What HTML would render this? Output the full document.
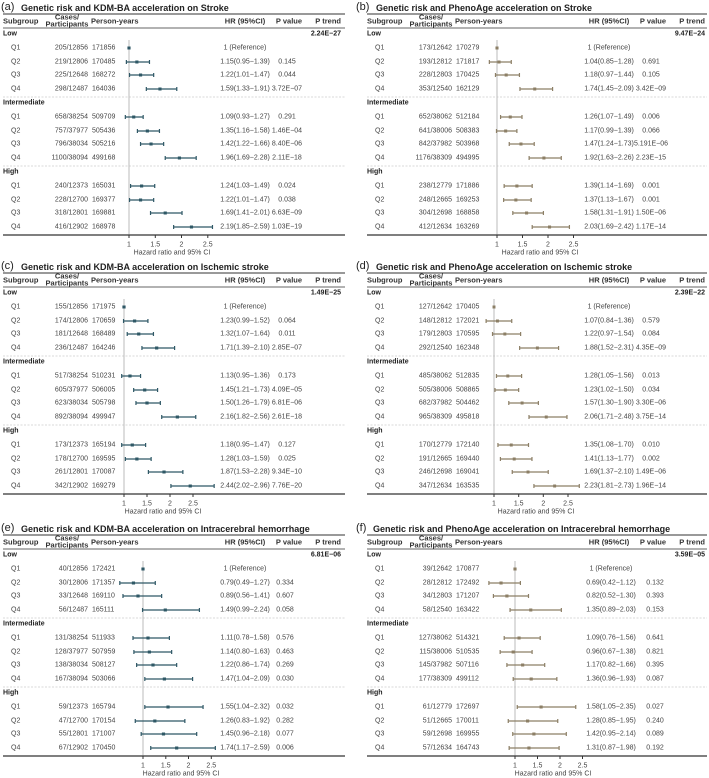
<!DOCTYPE html>
<html><head><meta charset="utf-8"><style>
html,body{margin:0;padding:0;background:#fff;}
svg{display:block;font-family:"Liberation Sans",sans-serif;}
text{font-size:7px;fill:#444;dominant-baseline:central;}
.e{text-anchor:end}.m{text-anchor:middle}
.b{font-weight:bold;fill:#222}
.t{font-size:9px;font-weight:bold;fill:#222}
.tl{font-size:11px;fill:#222}
.h{font-weight:bold;fill:#333;font-size:7.5px}
.ci{fill:none;stroke-width:1.2px;vector-effect:non-scaling-stroke}
.L .ci{stroke:#2f5866}.L .mk{fill:#2f5866}
.R .ci{stroke:#8c7f66}.R .mk{fill:#8c7f66}
.sep{stroke:#ccc;stroke-width:.8;stroke-dasharray:2 1.5}
.ref{stroke:#bbb;stroke-width:1}
.ax{stroke:#555;stroke-width:1.5}
.tk{stroke:#333;stroke-width:1}
</style></head><body>
<svg width="709" height="778" viewBox="0 0 709 778" xmlns="http://www.w3.org/2000/svg">

<g class="L" transform="translate(0,0)">
<text class="tl" x="1" y="7">(a)</text><text class="t" x="21" y="8">Genetic risk and KDM-BA acceleration on Stroke</text>
<line x1="3" y1="14" x2="345" y2="14" stroke="#333" stroke-width="1"/>
<line x1="3" y1="28" x2="345" y2="28" stroke="#333" stroke-width=".7"/>
<text class="h" x="3" y="21">Subgroup</text><text class="h m" x="67" y="17">Cases/</text><text class="h m" x="67" y="24">Participants</text><text class="h" x="91" y="21">Person-years</text><text class="h m" x="245" y="21">HR (95%CI)</text><text class="h m" x="289" y="21">P value</text><text class="h e" x="341" y="21">P trend</text>
<text class="b" x="3" y="34">Low</text><text class="b e" x="341" y="34">2.24E−27</text>
<line class="sep" x1="3" y1="97" x2="345" y2="97"/><text class="b" x="3" y="103">Intermediate</text>
<line class="sep" x1="3" y1="166" x2="345" y2="166"/><text class="b" x="3" y="172">High</text>
<line class="ref" x1="129" y1="40" x2="129" y2="235"/>
<line class="ax" x1="3" y1="235" x2="345" y2="235"/>
<path class="tk" d="M129 235v3M155.3 235v3M181.5 235v3M207.8 235v3"/>
<text class="m" x="129" y="245">1</text><text class="m" x="155.3" y="245">1.5</text><text class="m" x="181.5" y="245">2</text><text class="m" x="207.8" y="245">2.5</text>
<text class="m" x="172" y="253">Hazard ratio and 95% CI</text>
<text x="11" y="48">Q1</text><text class="e" x="88" y="48">205/12856</text><text x="92" y="48">171856</text><text class="m" x="245" y="48">1 (Reference)</text>
<text x="11" y="62">Q2</text><text class="e" x="88" y="62">219/12806</text><text x="92" y="62">170485</text><text class="m" x="245" y="62">1.15(0.95−1.39)</text><text class="m" x="287" y="62">0.145</text>
<text x="11" y="75">Q3</text><text class="e" x="88" y="75">225/12648</text><text x="92" y="75">168272</text><text class="m" x="245" y="75">1.22(1.01−1.47)</text><text class="m" x="287" y="75">0.044</text>
<text x="11" y="89">Q4</text><text class="e" x="88" y="89">298/12487</text><text x="92" y="89">164036</text><text class="m" x="245" y="89">1.59(1.33−1.91)</text><text class="m" x="287" y="89">3.72E−07</text>
<text x="11" y="117">Q1</text><text class="e" x="88" y="117">658/38254</text><text x="92" y="117">509709</text><text class="m" x="245" y="117">1.09(0.93−1.27)</text><text class="m" x="287" y="117">0.291</text>
<text x="11" y="131">Q2</text><text class="e" x="88" y="131">757/37977</text><text x="92" y="131">505436</text><text class="m" x="245" y="131">1.35(1.16−1.58)</text><text class="m" x="287" y="131">1.46E−04</text>
<text x="11" y="144">Q3</text><text class="e" x="88" y="144">796/38034</text><text x="92" y="144">505216</text><text class="m" x="245" y="144">1.42(1.22−1.66)</text><text class="m" x="287" y="144">8.40E−06</text>
<text x="11" y="158">Q4</text><text class="e" x="88" y="158">1100/38094</text><text x="92" y="158">499168</text><text class="m" x="245" y="158">1.96(1.69−2.28)</text><text class="m" x="287" y="158">2.11E−18</text>
<text x="11" y="186">Q1</text><text class="e" x="88" y="186">240/12373</text><text x="92" y="186">165031</text><text class="m" x="245" y="186">1.24(1.03−1.49)</text><text class="m" x="287" y="186">0.024</text>
<text x="11" y="200">Q2</text><text class="e" x="88" y="200">228/12700</text><text x="92" y="200">169377</text><text class="m" x="245" y="200">1.22(1.01−1.47)</text><text class="m" x="287" y="200">0.038</text>
<text x="11" y="213">Q3</text><text class="e" x="88" y="213">318/12801</text><text x="92" y="213">169881</text><text class="m" x="245" y="213">1.69(1.41−2.01)</text><text class="m" x="287" y="213">6.63E−09</text>
<text x="11" y="227">Q4</text><text class="e" x="88" y="227">416/12902</text><text x="92" y="227">168978</text><text class="m" x="245" y="227">2.19(1.85−2.59)</text><text class="m" x="287" y="227">1.03E−19</text>
<g transform="translate(129,0) scale(52.5,1)">
<path class="ci" d="M-0.05 62H0.39M-0.05 60V64M0.39 60V64 M0.01 75H0.47M0.01 73V77M0.47 73V77 M0.33 89H0.91M0.33 87V91M0.91 87V91 M-0.07 117H0.27M-0.07 115V119M0.27 115V119 M0.16 131H0.58M0.16 129V133M0.58 129V133 M0.22 144H0.66M0.22 142V146M0.66 142V146 M0.69 158H1.28M0.69 156V160M1.28 156V160 M0.03 186H0.49M0.03 184V188M0.49 184V188 M0.01 200H0.47M0.01 198V202M0.47 198V202 M0.41 213H1.01M0.41 211V215M1.01 211V215 M0.85 227H1.59M0.85 225V229M1.59 225V229"/>
<g class="mk"><rect x="-0.03" y="46.5" width="0.06" height="3"/><rect x="0.12" y="60.5" width="0.06" height="3"/><rect x="0.19" y="73.5" width="0.06" height="3"/><rect x="0.56" y="87.5" width="0.06" height="3"/><rect x="0.06" y="115.5" width="0.06" height="3"/><rect x="0.32" y="129.5" width="0.06" height="3"/><rect x="0.39" y="142.5" width="0.06" height="3"/><rect x="0.93" y="156.5" width="0.06" height="3"/><rect x="0.21" y="184.5" width="0.06" height="3"/><rect x="0.19" y="198.5" width="0.06" height="3"/><rect x="0.66" y="211.5" width="0.06" height="3"/><rect x="1.16" y="225.5" width="0.06" height="3"/></g>
</g>
</g>

<g class="R" transform="translate(364,0)">
<text class="tl" x="-8" y="7">(b)</text><text class="t" x="12" y="8">Genetic risk and PhenoAge acceleration on Stroke</text>
<line x1="3" y1="14" x2="343" y2="14" stroke="#333" stroke-width="1"/>
<line x1="3" y1="28" x2="343" y2="28" stroke="#333" stroke-width=".7"/>
<text class="h" x="3" y="21">Subgroup</text><text class="h m" x="67" y="17">Cases/</text><text class="h m" x="67" y="24">Participants</text><text class="h" x="91" y="21">Person-years</text><text class="h m" x="245" y="21">HR (95%CI)</text><text class="h m" x="289" y="21">P value</text><text class="h e" x="341" y="21">P trend</text>
<text class="b" x="3" y="34">Low</text><text class="b e" x="341" y="34">9.47E−24</text>
<line class="sep" x1="3" y1="97" x2="343" y2="97"/><text class="b" x="3" y="103">Intermediate</text>
<line class="sep" x1="3" y1="166" x2="343" y2="166"/><text class="b" x="3" y="172">High</text>
<line class="ref" x1="133" y1="40" x2="133" y2="235"/>
<line class="ax" x1="3" y1="235" x2="343" y2="235"/>
<path class="tk" d="M133 235v3M158.5 235v3M184 235v3M209.5 235v3"/>
<text class="m" x="133" y="245">1</text><text class="m" x="158.5" y="245">1.5</text><text class="m" x="184" y="245">2</text><text class="m" x="209.5" y="245">2.5</text>
<text class="m" x="176" y="253">Hazard ratio and 95% CI</text>
<text x="11" y="48">Q1</text><text class="e" x="88" y="48">173/12642</text><text x="92" y="48">170279</text><text class="m" x="245" y="48">1 (Reference)</text>
<text x="11" y="62">Q2</text><text class="e" x="88" y="62">193/12812</text><text x="92" y="62">171817</text><text class="m" x="245" y="62">1.04(0.85−1.28)</text><text class="m" x="287" y="62">0.691</text>
<text x="11" y="75">Q3</text><text class="e" x="88" y="75">228/12803</text><text x="92" y="75">170425</text><text class="m" x="245" y="75">1.18(0.97−1.44)</text><text class="m" x="287" y="75">0.105</text>
<text x="11" y="89">Q4</text><text class="e" x="88" y="89">353/12540</text><text x="92" y="89">162129</text><text class="m" x="245" y="89">1.74(1.45−2.09)</text><text class="m" x="287" y="89">3.42E−09</text>
<text x="11" y="117">Q1</text><text class="e" x="88" y="117">652/38062</text><text x="92" y="117">512184</text><text class="m" x="245" y="117">1.26(1.07−1.49)</text><text class="m" x="287" y="117">0.006</text>
<text x="11" y="131">Q2</text><text class="e" x="88" y="131">641/38006</text><text x="92" y="131">508383</text><text class="m" x="245" y="131">1.17(0.99−1.39)</text><text class="m" x="287" y="131">0.066</text>
<text x="11" y="144">Q3</text><text class="e" x="88" y="144">842/37982</text><text x="92" y="144">503968</text><text class="m" x="245" y="144">1.47(1.24−1.73)</text><text class="m" x="287" y="144">5.191E−06</text>
<text x="11" y="158">Q4</text><text class="e" x="88" y="158">1176/38309</text><text x="92" y="158">494995</text><text class="m" x="245" y="158">1.92(1.63−2.26)</text><text class="m" x="287" y="158">2.23E−15</text>
<text x="11" y="186">Q1</text><text class="e" x="88" y="186">238/12779</text><text x="92" y="186">171886</text><text class="m" x="245" y="186">1.39(1.14−1.69)</text><text class="m" x="287" y="186">0.001</text>
<text x="11" y="200">Q2</text><text class="e" x="88" y="200">248/12665</text><text x="92" y="200">169253</text><text class="m" x="245" y="200">1.37(1.13−1.67)</text><text class="m" x="287" y="200">0.001</text>
<text x="11" y="213">Q3</text><text class="e" x="88" y="213">304/12698</text><text x="92" y="213">168858</text><text class="m" x="245" y="213">1.58(1.31−1.91)</text><text class="m" x="287" y="213">1.50E−06</text>
<text x="11" y="227">Q4</text><text class="e" x="88" y="227">412/12634</text><text x="92" y="227">163269</text><text class="m" x="245" y="227">2.03(1.69−2.42)</text><text class="m" x="287" y="227">1.17E−14</text>
<g transform="translate(133,0) scale(51,1)">
<path class="ci" d="M-0.15 62H0.28M-0.15 60V64M0.28 60V64 M-0.03 75H0.44M-0.03 73V77M0.44 73V77 M0.45 89H1.09M0.45 87V91M1.09 87V91 M0.07 117H0.49M0.07 115V119M0.49 115V119 M-0.01 131H0.39M-0.01 129V133M0.39 129V133 M0.24 144H0.73M0.24 142V146M0.73 142V146 M0.63 158H1.26M0.63 156V160M1.26 156V160 M0.14 186H0.69M0.14 184V188M0.69 184V188 M0.13 200H0.67M0.13 198V202M0.67 198V202 M0.31 213H0.91M0.31 211V215M0.91 211V215 M0.69 227H1.42M0.69 225V229M1.42 225V229"/>
<g class="mk"><rect x="-0.03" y="46.5" width="0.06" height="3"/><rect x="0.01" y="60.5" width="0.06" height="3"/><rect x="0.15" y="73.5" width="0.06" height="3"/><rect x="0.71" y="87.5" width="0.06" height="3"/><rect x="0.23" y="115.5" width="0.06" height="3"/><rect x="0.14" y="129.5" width="0.06" height="3"/><rect x="0.44" y="142.5" width="0.06" height="3"/><rect x="0.89" y="156.5" width="0.06" height="3"/><rect x="0.36" y="184.5" width="0.06" height="3"/><rect x="0.34" y="198.5" width="0.06" height="3"/><rect x="0.55" y="211.5" width="0.06" height="3"/><rect x="1.0" y="225.5" width="0.06" height="3"/></g>
</g>
</g>

<g class="L" transform="translate(0,259)">
<text class="tl" x="1" y="7">(c)</text><text class="t" x="21" y="8">Genetic risk and KDM-BA acceleration on Ischemic stroke</text>
<line x1="3" y1="14" x2="345" y2="14" stroke="#333" stroke-width="1"/>
<line x1="3" y1="28" x2="345" y2="28" stroke="#333" stroke-width=".7"/>
<text class="h" x="3" y="21">Subgroup</text><text class="h m" x="67" y="17">Cases/</text><text class="h m" x="67" y="24">Participants</text><text class="h" x="91" y="21">Person-years</text><text class="h m" x="245" y="21">HR (95%CI)</text><text class="h m" x="289" y="21">P value</text><text class="h e" x="341" y="21">P trend</text>
<text class="b" x="3" y="34">Low</text><text class="b e" x="341" y="34">1.49E−25</text>
<line class="sep" x1="3" y1="97" x2="345" y2="97"/><text class="b" x="3" y="103">Intermediate</text>
<line class="sep" x1="3" y1="166" x2="345" y2="166"/><text class="b" x="3" y="172">High</text>
<line class="ref" x1="124" y1="40" x2="124" y2="235"/>
<line class="ax" x1="3" y1="235" x2="345" y2="235"/>
<path class="tk" d="M124 235v3M147 235v3M170 235v3M193 235v3"/>
<text class="m" x="124" y="245">1</text><text class="m" x="147" y="245">1.5</text><text class="m" x="170" y="245">2</text><text class="m" x="193" y="245">2.5</text>
<text class="m" x="163" y="253">Hazard ratio and 95% CI</text>
<text x="11" y="48">Q1</text><text class="e" x="88" y="48">155/12856</text><text x="92" y="48">171975</text><text class="m" x="245" y="48">1 (Reference)</text>
<text x="11" y="62">Q2</text><text class="e" x="88" y="62">174/12806</text><text x="92" y="62">170659</text><text class="m" x="245" y="62">1.23(0.99−1.52)</text><text class="m" x="287" y="62">0.064</text>
<text x="11" y="75">Q3</text><text class="e" x="88" y="75">181/12648</text><text x="92" y="75">168489</text><text class="m" x="245" y="75">1.32(1.07−1.64)</text><text class="m" x="287" y="75">0.011</text>
<text x="11" y="89">Q4</text><text class="e" x="88" y="89">236/12487</text><text x="92" y="89">164246</text><text class="m" x="245" y="89">1.71(1.39−2.10)</text><text class="m" x="287" y="89">2.85E−07</text>
<text x="11" y="117">Q1</text><text class="e" x="88" y="117">517/38254</text><text x="92" y="117">510231</text><text class="m" x="245" y="117">1.13(0.95−1.36)</text><text class="m" x="287" y="117">0.173</text>
<text x="11" y="131">Q2</text><text class="e" x="88" y="131">605/37977</text><text x="92" y="131">506005</text><text class="m" x="245" y="131">1.45(1.21−1.73)</text><text class="m" x="287" y="131">4.09E−05</text>
<text x="11" y="144">Q3</text><text class="e" x="88" y="144">623/38034</text><text x="92" y="144">505798</text><text class="m" x="245" y="144">1.50(1.26−1.79)</text><text class="m" x="287" y="144">6.81E−06</text>
<text x="11" y="158">Q4</text><text class="e" x="88" y="158">892/38094</text><text x="92" y="158">499947</text><text class="m" x="245" y="158">2.16(1.82−2.56)</text><text class="m" x="287" y="158">2.61E−18</text>
<text x="11" y="186">Q1</text><text class="e" x="88" y="186">173/12373</text><text x="92" y="186">165194</text><text class="m" x="245" y="186">1.18(0.95−1.47)</text><text class="m" x="287" y="186">0.127</text>
<text x="11" y="200">Q2</text><text class="e" x="88" y="200">178/12700</text><text x="92" y="200">169595</text><text class="m" x="245" y="200">1.28(1.03−1.59)</text><text class="m" x="287" y="200">0.025</text>
<text x="11" y="213">Q3</text><text class="e" x="88" y="213">261/12801</text><text x="92" y="213">170087</text><text class="m" x="245" y="213">1.87(1.53−2.28)</text><text class="m" x="287" y="213">9.34E−10</text>
<text x="11" y="227">Q4</text><text class="e" x="88" y="227">342/12902</text><text x="92" y="227">169279</text><text class="m" x="245" y="227">2.44(2.02−2.96)</text><text class="m" x="287" y="227">7.76E−20</text>
<g transform="translate(124,0) scale(46,1)">
<path class="ci" d="M-0.01 62H0.52M-0.01 60V64M0.52 60V64 M0.07 75H0.64M0.07 73V77M0.64 73V77 M0.39 89H1.10M0.39 87V91M1.10 87V91 M-0.05 117H0.36M-0.05 115V119M0.36 115V119 M0.21 131H0.73M0.21 129V133M0.73 129V133 M0.26 144H0.79M0.26 142V146M0.79 142V146 M0.82 158H1.56M0.82 156V160M1.56 156V160 M-0.05 186H0.47M-0.05 184V188M0.47 184V188 M0.03 200H0.59M0.03 198V202M0.59 198V202 M0.53 213H1.28M0.53 211V215M1.28 211V215 M1.02 227H1.96M1.02 225V229M1.96 225V229"/>
<g class="mk"><rect x="-0.035" y="46.5" width="0.07" height="3"/><rect x="0.195" y="60.5" width="0.07" height="3"/><rect x="0.285" y="73.5" width="0.07" height="3"/><rect x="0.675" y="87.5" width="0.07" height="3"/><rect x="0.095" y="115.5" width="0.07" height="3"/><rect x="0.415" y="129.5" width="0.07" height="3"/><rect x="0.465" y="142.5" width="0.07" height="3"/><rect x="1.125" y="156.5" width="0.07" height="3"/><rect x="0.145" y="184.5" width="0.07" height="3"/><rect x="0.245" y="198.5" width="0.07" height="3"/><rect x="0.835" y="211.5" width="0.07" height="3"/><rect x="1.405" y="225.5" width="0.07" height="3"/></g>
</g>
</g>

<g class="R" transform="translate(364,259)">
<text class="tl" x="-8" y="7">(d)</text><text class="t" x="12" y="8">Genetic risk and PhenoAge acceleration on Ischemic stroke</text>
<line x1="3" y1="14" x2="343" y2="14" stroke="#333" stroke-width="1"/>
<line x1="3" y1="28" x2="343" y2="28" stroke="#333" stroke-width=".7"/>
<text class="h" x="3" y="21">Subgroup</text><text class="h m" x="67" y="17">Cases/</text><text class="h m" x="67" y="24">Participants</text><text class="h" x="91" y="21">Person-years</text><text class="h m" x="245" y="21">HR (95%CI)</text><text class="h m" x="289" y="21">P value</text><text class="h e" x="341" y="21">P trend</text>
<text class="b" x="3" y="34">Low</text><text class="b e" x="341" y="34">2.39E−22</text>
<line class="sep" x1="3" y1="97" x2="343" y2="97"/><text class="b" x="3" y="103">Intermediate</text>
<line class="sep" x1="3" y1="166" x2="343" y2="166"/><text class="b" x="3" y="172">High</text>
<line class="ref" x1="130" y1="40" x2="130" y2="235"/>
<line class="ax" x1="3" y1="235" x2="343" y2="235"/>
<path class="tk" d="M130 235v3M154.7 235v3M179.3 235v3M204 235v3"/>
<text class="m" x="130" y="245">1</text><text class="m" x="154.7" y="245">1.5</text><text class="m" x="179.3" y="245">2</text><text class="m" x="204" y="245">2.5</text>
<text class="m" x="172" y="253">Hazard ratio and 95% CI</text>
<text x="11" y="48">Q1</text><text class="e" x="88" y="48">127/12642</text><text x="92" y="48">170405</text><text class="m" x="245" y="48">1 (Reference)</text>
<text x="11" y="62">Q2</text><text class="e" x="88" y="62">148/12812</text><text x="92" y="62">172021</text><text class="m" x="245" y="62">1.07(0.84−1.36)</text><text class="m" x="287" y="62">0.579</text>
<text x="11" y="75">Q3</text><text class="e" x="88" y="75">179/12803</text><text x="92" y="75">170595</text><text class="m" x="245" y="75">1.22(0.97−1.54)</text><text class="m" x="287" y="75">0.084</text>
<text x="11" y="89">Q4</text><text class="e" x="88" y="89">292/12540</text><text x="92" y="89">162348</text><text class="m" x="245" y="89">1.88(1.52−2.31)</text><text class="m" x="287" y="89">4.35E−09</text>
<text x="11" y="117">Q1</text><text class="e" x="88" y="117">485/38062</text><text x="92" y="117">512835</text><text class="m" x="245" y="117">1.28(1.05−1.56)</text><text class="m" x="287" y="117">0.013</text>
<text x="11" y="131">Q2</text><text class="e" x="88" y="131">505/38006</text><text x="92" y="131">508865</text><text class="m" x="245" y="131">1.23(1.02−1.50)</text><text class="m" x="287" y="131">0.034</text>
<text x="11" y="144">Q3</text><text class="e" x="88" y="144">682/37982</text><text x="92" y="144">504462</text><text class="m" x="245" y="144">1.57(1.30−1.90)</text><text class="m" x="287" y="144">3.30E−06</text>
<text x="11" y="158">Q4</text><text class="e" x="88" y="158">965/38309</text><text x="92" y="158">495818</text><text class="m" x="245" y="158">2.06(1.71−2.48)</text><text class="m" x="287" y="158">3.75E−14</text>
<text x="11" y="186">Q1</text><text class="e" x="88" y="186">170/12779</text><text x="92" y="186">172140</text><text class="m" x="245" y="186">1.35(1.08−1.70)</text><text class="m" x="287" y="186">0.010</text>
<text x="11" y="200">Q2</text><text class="e" x="88" y="200">191/12665</text><text x="92" y="200">169440</text><text class="m" x="245" y="200">1.41(1.13−1.77)</text><text class="m" x="287" y="200">0.002</text>
<text x="11" y="213">Q3</text><text class="e" x="88" y="213">246/12698</text><text x="92" y="213">169041</text><text class="m" x="245" y="213">1.69(1.37−2.10)</text><text class="m" x="287" y="213">1.49E−06</text>
<text x="11" y="227">Q4</text><text class="e" x="88" y="227">347/12634</text><text x="92" y="227">163535</text><text class="m" x="245" y="227">2.23(1.81−2.73)</text><text class="m" x="287" y="227">1.96E−14</text>
<g transform="translate(130,0) scale(49.3,1)">
<path class="ci" d="M-0.16 62H0.36M-0.16 60V64M0.36 60V64 M-0.03 75H0.54M-0.03 73V77M0.54 73V77 M0.52 89H1.31M0.52 87V91M1.31 87V91 M0.05 117H0.56M0.05 115V119M0.56 115V119 M0.02 131H0.50M0.02 129V133M0.50 129V133 M0.30 144H0.90M0.30 142V146M0.90 142V146 M0.71 158H1.48M0.71 156V160M1.48 156V160 M0.08 186H0.70M0.08 184V188M0.70 184V188 M0.13 200H0.77M0.13 198V202M0.77 198V202 M0.37 213H1.10M0.37 211V215M1.10 211V215 M0.81 227H1.73M0.81 225V229M1.73 225V229"/>
<g class="mk"><rect x="-0.03" y="46.5" width="0.06" height="3"/><rect x="0.04" y="60.5" width="0.06" height="3"/><rect x="0.19" y="73.5" width="0.06" height="3"/><rect x="0.85" y="87.5" width="0.06" height="3"/><rect x="0.25" y="115.5" width="0.06" height="3"/><rect x="0.2" y="129.5" width="0.06" height="3"/><rect x="0.54" y="142.5" width="0.06" height="3"/><rect x="1.03" y="156.5" width="0.06" height="3"/><rect x="0.32" y="184.5" width="0.06" height="3"/><rect x="0.38" y="198.5" width="0.06" height="3"/><rect x="0.66" y="211.5" width="0.06" height="3"/><rect x="1.2" y="225.5" width="0.06" height="3"/></g>
</g>
</g>

<g class="L" transform="translate(0,521)">
<text class="tl" x="1" y="7">(e)</text><text class="t" x="21" y="8">Genetic risk and KDM-BA acceleration on Intracerebral hemorrhage</text>
<line x1="3" y1="14" x2="345" y2="14" stroke="#333" stroke-width="1"/>
<line x1="3" y1="28" x2="345" y2="28" stroke="#333" stroke-width=".7"/>
<text class="h" x="3" y="21">Subgroup</text><text class="h m" x="67" y="17">Cases/</text><text class="h m" x="67" y="24">Participants</text><text class="h" x="91" y="21">Person-years</text><text class="h m" x="245" y="21">HR (95%CI)</text><text class="h m" x="289" y="21">P value</text><text class="h e" x="341" y="21">P trend</text>
<text class="b" x="3" y="34">Low</text><text class="b e" x="341" y="34">6.81E−06</text>
<line class="sep" x1="3" y1="97" x2="345" y2="97"/><text class="b" x="3" y="103">Intermediate</text>
<line class="sep" x1="3" y1="166" x2="345" y2="166"/><text class="b" x="3" y="172">High</text>
<line class="ref" x1="143" y1="40" x2="143" y2="235"/>
<line class="ax" x1="3" y1="235" x2="345" y2="235"/>
<path class="tk" d="M143 235v3M165.8 235v3M188.5 235v3M211.3 235v3"/>
<text class="m" x="143" y="245">1</text><text class="m" x="165.8" y="245">1.5</text><text class="m" x="188.5" y="245">2</text><text class="m" x="211.3" y="245">2.5</text>
<text class="m" x="181" y="253">Hazard ratio and 95% CI</text>
<text x="11" y="48">Q1</text><text class="e" x="88" y="48">40/12856</text><text x="92" y="48">172421</text><text class="m" x="245" y="48">1 (Reference)</text>
<text x="11" y="62">Q2</text><text class="e" x="88" y="62">30/12806</text><text x="92" y="62">171357</text><text class="m" x="245" y="62">0.79(0.49−1.27)</text><text class="m" x="285" y="62">0.334</text>
<text x="11" y="75">Q3</text><text class="e" x="88" y="75">33/12648</text><text x="92" y="75">169110</text><text class="m" x="245" y="75">0.89(0.56−1.41)</text><text class="m" x="285" y="75">0.607</text>
<text x="11" y="89">Q4</text><text class="e" x="88" y="89">56/12487</text><text x="92" y="89">165111</text><text class="m" x="245" y="89">1.49(0.99−2.24)</text><text class="m" x="285" y="89">0.058</text>
<text x="11" y="117">Q1</text><text class="e" x="88" y="117">131/38254</text><text x="92" y="117">511933</text><text class="m" x="245" y="117">1.11(0.78−1.58)</text><text class="m" x="285" y="117">0.576</text>
<text x="11" y="131">Q2</text><text class="e" x="88" y="131">128/37977</text><text x="92" y="131">507959</text><text class="m" x="245" y="131">1.14(0.80−1.63)</text><text class="m" x="285" y="131">0.463</text>
<text x="11" y="144">Q3</text><text class="e" x="88" y="144">138/38034</text><text x="92" y="144">508127</text><text class="m" x="245" y="144">1.22(0.86−1.74)</text><text class="m" x="285" y="144">0.269</text>
<text x="11" y="158">Q4</text><text class="e" x="88" y="158">167/38094</text><text x="92" y="158">503066</text><text class="m" x="245" y="158">1.47(1.04−2.09)</text><text class="m" x="285" y="158">0.030</text>
<text x="11" y="186">Q1</text><text class="e" x="88" y="186">59/12373</text><text x="92" y="186">165794</text><text class="m" x="245" y="186">1.55(1.04−2.32)</text><text class="m" x="285" y="186">0.032</text>
<text x="11" y="200">Q2</text><text class="e" x="88" y="200">47/12700</text><text x="92" y="200">170154</text><text class="m" x="245" y="200">1.26(0.83−1.92)</text><text class="m" x="285" y="200">0.282</text>
<text x="11" y="213">Q3</text><text class="e" x="88" y="213">55/12801</text><text x="92" y="213">171007</text><text class="m" x="245" y="213">1.45(0.96−2.18)</text><text class="m" x="285" y="213">0.077</text>
<text x="11" y="227">Q4</text><text class="e" x="88" y="227">67/12902</text><text x="92" y="227">170450</text><text class="m" x="245" y="227">1.74(1.17−2.59)</text><text class="m" x="285" y="227">0.006</text>
<g transform="translate(143,0) scale(45.5,1)">
<path class="ci" d="M-0.51 62H0.27M-0.51 60V64M0.27 60V64 M-0.44 75H0.41M-0.44 73V77M0.41 73V77 M-0.01 89H1.24M-0.01 87V91M1.24 87V91 M-0.22 117H0.58M-0.22 115V119M0.58 115V119 M-0.20 131H0.63M-0.20 129V133M0.63 129V133 M-0.14 144H0.74M-0.14 142V146M0.74 142V146 M0.04 158H1.09M0.04 156V160M1.09 156V160 M0.04 186H1.32M0.04 184V188M1.32 184V188 M-0.17 200H0.92M-0.17 198V202M0.92 198V202 M-0.04 213H1.18M-0.04 211V215M1.18 211V215 M0.17 227H1.59M0.17 225V229M1.59 225V229"/>
<g class="mk"><rect x="-0.035" y="46.5" width="0.07" height="3"/><rect x="-0.245" y="60.5" width="0.07" height="3"/><rect x="-0.145" y="73.5" width="0.07" height="3"/><rect x="0.455" y="87.5" width="0.07" height="3"/><rect x="0.075" y="115.5" width="0.07" height="3"/><rect x="0.105" y="129.5" width="0.07" height="3"/><rect x="0.185" y="142.5" width="0.07" height="3"/><rect x="0.435" y="156.5" width="0.07" height="3"/><rect x="0.515" y="184.5" width="0.07" height="3"/><rect x="0.225" y="198.5" width="0.07" height="3"/><rect x="0.415" y="211.5" width="0.07" height="3"/><rect x="0.705" y="225.5" width="0.07" height="3"/></g>
</g>
</g>

<g class="R" transform="translate(364,521)">
<text class="tl" x="-8" y="7">(f)</text><text class="t" x="9" y="8">Genetic risk and PhenoAge acceleration on Intracerebral hemorrhage</text>
<line x1="3" y1="14" x2="343" y2="14" stroke="#333" stroke-width="1"/>
<line x1="3" y1="28" x2="343" y2="28" stroke="#333" stroke-width=".7"/>
<text class="h" x="3" y="21">Subgroup</text><text class="h m" x="67" y="17">Cases/</text><text class="h m" x="67" y="24">Participants</text><text class="h" x="91" y="21">Person-years</text><text class="h m" x="245" y="21">HR (95%CI)</text><text class="h m" x="289" y="21">P value</text><text class="h e" x="341" y="21">P trend</text>
<text class="b" x="3" y="34">Low</text><text class="b e" x="341" y="34">3.59E−05</text>
<line class="sep" x1="3" y1="97" x2="343" y2="97"/><text class="b" x="3" y="103">Intermediate</text>
<line class="sep" x1="3" y1="166" x2="343" y2="166"/><text class="b" x="3" y="172">High</text>
<line class="ref" x1="151" y1="40" x2="151" y2="235"/>
<line class="ax" x1="3" y1="235" x2="343" y2="235"/>
<path class="tk" d="M151 235v3M173.5 235v3M196 235v3M218.5 235v3"/>
<text class="m" x="151" y="245">1</text><text class="m" x="173.5" y="245">1.5</text><text class="m" x="196" y="245">2</text><text class="m" x="218.5" y="245">2.5</text>
<text class="m" x="189" y="253">Hazard ratio and 95% CI</text>
<text x="11" y="48">Q1</text><text class="e" x="88" y="48">39/12642</text><text x="92" y="48">170877</text><text class="m" x="247" y="48">1 (Reference)</text>
<text x="11" y="62">Q2</text><text class="e" x="88" y="62">28/12812</text><text x="92" y="62">172492</text><text class="m" x="247" y="62">0.69(0.42−1.12)</text><text class="m" x="291" y="62">0.132</text>
<text x="11" y="75">Q3</text><text class="e" x="88" y="75">34/12803</text><text x="92" y="75">171207</text><text class="m" x="247" y="75">0.82(0.52−1.30)</text><text class="m" x="291" y="75">0.393</text>
<text x="11" y="89">Q4</text><text class="e" x="88" y="89">58/12540</text><text x="92" y="89">163422</text><text class="m" x="247" y="89">1.35(0.89−2.03)</text><text class="m" x="291" y="89">0.153</text>
<text x="11" y="117">Q1</text><text class="e" x="88" y="117">127/38062</text><text x="92" y="117">514321</text><text class="m" x="247" y="117">1.09(0.76−1.56)</text><text class="m" x="291" y="117">0.641</text>
<text x="11" y="131">Q2</text><text class="e" x="88" y="131">115/38006</text><text x="92" y="131">510535</text><text class="m" x="247" y="131">0.96(0.67−1.38)</text><text class="m" x="291" y="131">0.821</text>
<text x="11" y="144">Q3</text><text class="e" x="88" y="144">145/37982</text><text x="92" y="144">507116</text><text class="m" x="247" y="144">1.17(0.82−1.66)</text><text class="m" x="291" y="144">0.395</text>
<text x="11" y="158">Q4</text><text class="e" x="88" y="158">177/38309</text><text x="92" y="158">499112</text><text class="m" x="247" y="158">1.36(0.96−1.93)</text><text class="m" x="291" y="158">0.087</text>
<text x="11" y="186">Q1</text><text class="e" x="88" y="186">61/12779</text><text x="92" y="186">172697</text><text class="m" x="247" y="186">1.58(1.05−2.35)</text><text class="m" x="291" y="186">0.027</text>
<text x="11" y="200">Q2</text><text class="e" x="88" y="200">51/12665</text><text x="92" y="200">170011</text><text class="m" x="247" y="200">1.28(0.85−1.95)</text><text class="m" x="291" y="200">0.240</text>
<text x="11" y="213">Q3</text><text class="e" x="88" y="213">59/12698</text><text x="92" y="213">169955</text><text class="m" x="247" y="213">1.42(0.95−2.14)</text><text class="m" x="291" y="213">0.089</text>
<text x="11" y="227">Q4</text><text class="e" x="88" y="227">57/12634</text><text x="92" y="227">164743</text><text class="m" x="247" y="227">1.31(0.87−1.98)</text><text class="m" x="291" y="227">0.192</text>
<g transform="translate(151,0) scale(45,1)">
<path class="ci" d="M-0.58 62H0.12M-0.58 60V64M0.12 60V64 M-0.48 75H0.30M-0.48 73V77M0.30 73V77 M-0.11 89H1.03M-0.11 87V91M1.03 87V91 M-0.24 117H0.56M-0.24 115V119M0.56 115V119 M-0.33 131H0.38M-0.33 129V133M0.38 129V133 M-0.18 144H0.66M-0.18 142V146M0.66 142V146 M-0.04 158H0.93M-0.04 156V160M0.93 156V160 M0.05 186H1.35M0.05 184V188M1.35 184V188 M-0.15 200H0.95M-0.15 198V202M0.95 198V202 M-0.05 213H1.14M-0.05 211V215M1.14 211V215 M-0.13 227H0.98M-0.13 225V229M0.98 225V229"/>
<g class="mk"><rect x="-0.035" y="46.5" width="0.07" height="3"/><rect x="-0.345" y="60.5" width="0.07" height="3"/><rect x="-0.215" y="73.5" width="0.07" height="3"/><rect x="0.315" y="87.5" width="0.07" height="3"/><rect x="0.055" y="115.5" width="0.07" height="3"/><rect x="-0.075" y="129.5" width="0.07" height="3"/><rect x="0.135" y="142.5" width="0.07" height="3"/><rect x="0.325" y="156.5" width="0.07" height="3"/><rect x="0.545" y="184.5" width="0.07" height="3"/><rect x="0.245" y="198.5" width="0.07" height="3"/><rect x="0.385" y="211.5" width="0.07" height="3"/><rect x="0.275" y="225.5" width="0.07" height="3"/></g>
</g>
</g>
</svg>
</body></html>
